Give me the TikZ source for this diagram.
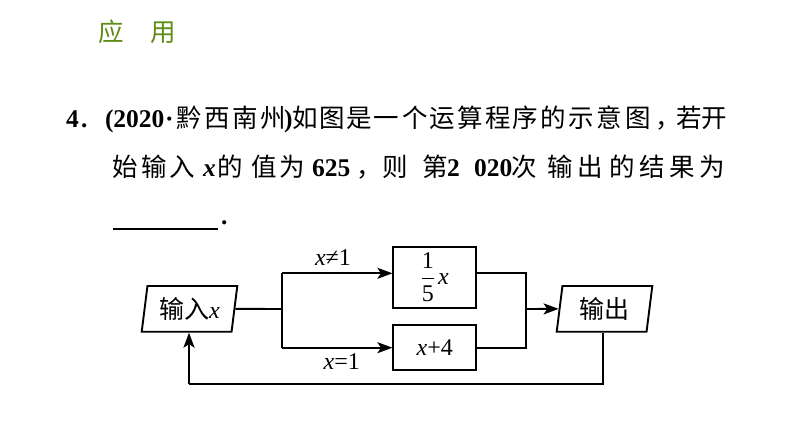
\documentclass[tikz,border=0pt]{standalone}
\usepackage{fontspec}
\usepackage{amsmath}
\setmainfont{Liberation Serif}
\newfontfamily\cjk{Noto Sans CJK SC}
\usetikzlibrary{shapes.geometric,arrows.meta}
\definecolor{hgreen}{RGB}{95,140,20}
\newcommand\lat[1]{{\rmfamily\bfseries #1}}
\begin{document}
\begin{tikzpicture}[x=1pt,y=-1pt,
  tok/.style={anchor=base west, inner sep=0pt, outer sep=0pt, font=\cjk\fontsize{25.5}{26}\selectfont},
  dfont/.style={font=\fontsize{24}{26}\selectfont},
  ln/.style={line width=1.9pt},
  arr/.style={line width=1.9pt, -{Stealth[length=15pt,width=11pt,inset=3.5pt]}},
  box/.style={draw, line width=1.9pt, inner sep=0pt, dfont},
  para/.style={draw, line width=1.9pt, trapezium, trapezium left angle=76, trapezium right angle=104,
    trapezium stretches body, minimum width=95.6pt, minimum height=45.7pt, inner sep=0pt, dfont},
  lbl/.style={inner sep=0pt, dfont}]
\useasboundingbox (0,0) rectangle (794,447);
% heading
\node[tok, text=hgreen] (h1) at (98,41) {应};
\node[tok, text=hgreen] (h2) at (150,41) {用};
% line 1
\foreach \x/\t [count=\i] in {66/\lat{4}, 81/\lat{.}, 105/\lat{(2020}, 165/\lat{·},
  176/黔, 204/西, 232/南, 260/州, 284/\lat{)}, 292/如, 319/图, 346/是, 373/一, 402/个,
  429/运, 457/算, 485/程, 512/序, 540/的, 568/示, 596/意, 625/图, 655/，, 676/若, 701/开}
  \node[tok] (la\i) at (\x,127.5) {\t};
% line 2
\foreach \x/\t [count=\i] in {112/始, 141/输, 169/入, 203/\lat{\itshape x}, 217/的, 251/值, 279/为,
  312/\lat{625}, 356/，, 382/则, 422/第, 447/\lat{2}, 474/\lat{020}, 511/次, 547/输, 577/出,
  609/的, 639/结, 669/果, 699/为}
  \node[tok] (lb\i) at (\x,176) {\t};
% line 3
\coordinate (u1) at (113,229);
\coordinate (u2) at (218,229);
\draw[line width=1.4pt] (u1) -- (u2);
\node[tok] (dot) at (221,224) {\lat{.}};
% diagram
\node[para] (in) at (189.5,308.85) {{\cjk\fontsize{25}{26}\selectfont 输入}\textit{x}};
\node[para] (out) at (604.5,308.85) {\cjk\fontsize{25}{26}\selectfont 输出};
\node[box, minimum width=82.7pt, minimum height=61pt] (f) at (434.7,277.2) {$\dfrac{\text{1}}{\text{5}}$\hspace{3pt}\textit{x}};
\node[box, minimum width=82.7pt, minimum height=45pt] (g) at (434.7,347.5) {\textit{x}+4};
\node[lbl] (c1) at (333,258) {\textit{x}≠1};
\node[lbl] (c2) at (341.7,361.7) {\textit{x}=1};
\coordinate (sp) at (282.3,309);
\coordinate (spt) at (282.3,273.3);
\coordinate (spb) at (282.3,347.7);
\coordinate (mg) at (525.7,309);
\coordinate (mgt) at (525.7,273.3);
\coordinate (mgb) at (525.7,347.7);
\coordinate (fb1) at (603.3,384);
\coordinate (fb2) at (189,384);
\draw[ln] (in.east) -- (sp);
\draw[ln] (spt) -- (spb);
\draw[arr] (spt) -- (f.west |- spt);
\draw[arr] (spb) -- (g.west |- spb);
\draw[ln] (f.east |- mgt) -- (mgt) -- (mgb) -- (g.east |- mgb);
\draw[arr] (mg) -- (out.west);
\draw[ln] (out.south -| fb1) -- (fb1) -- (fb2);
\draw[arr] (fb2) -- (in.south -| fb2);
\end{tikzpicture}
\end{document}
